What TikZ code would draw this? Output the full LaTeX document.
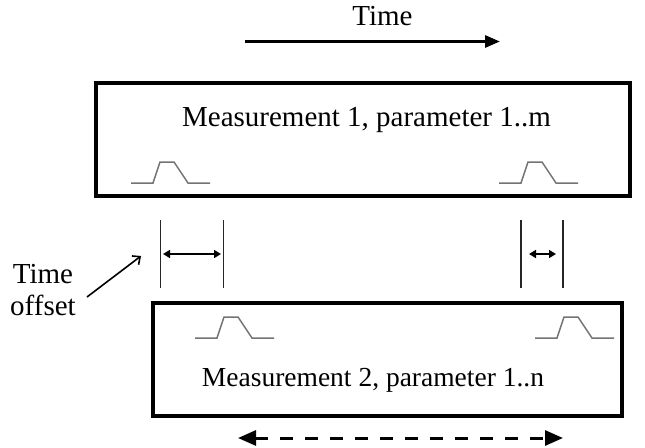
\documentclass[tikz,border=0pt]{standalone}
\usepackage{fontspec}
\setmainfont{Liberation Serif}
\usetikzlibrary{arrows.meta}
\begin{document}
\begin{tikzpicture}[x=1pt,y=-1pt,
  box/.style={draw, line width=3.5pt, rectangle, inner sep=0pt},
  lbl/.style={font=\fontsize{29}{32}\selectfont, inner sep=0pt, anchor=base},
  pulse/.style={draw=black!55, line width=1.5pt},
  marker/.style={draw=black!85, line width=1.4pt},
  offarrow/.style={line width=1.6pt, {Triangle[length=7pt,width=8pt]}-{Triangle[length=7pt,width=8pt]}},
  bigarrow/.style={line width=3pt, -{Triangle[length=15pt,width=12pt]}},
  dasharrow/.style={line width=3pt, dash pattern=on 13pt off 12pt, {Triangle[length=18pt,width=15pt]}-{Triangle[length=18pt,width=15pt]}},
  thinarrow/.style={line width=1.6pt, -{Straight Barb[length=6pt,width=11pt]}}
]
\useasboundingbox (0,0) rectangle (645,447);

% time arrow
\node[lbl] (time) at (382.5,25) {Time};
\coordinate (ts) at (245,41.5);
\coordinate (te) at (500,41.5);
\draw[bigarrow] (ts) -- (te);

% boxes
\node[box, minimum width=534pt, minimum height=113pt] (m1) at (363,139.5) {};
\node[lbl] (m1t) at (366.5,126) {Measurement 1, parameter 1..m};
\node[box, minimum width=469pt, minimum height=113pt] (m2) at (387.5,359.5) {};
\node[lbl, font=\fontsize{27.5}{32}\selectfont] (m2t) at (373,386) {Measurement 2, parameter 1..n};

% pulses
\newcommand\mypulse[2]{\draw[pulse] (#1,#2) -- ++(22,0) -- ++(7,-21) -- ++(14,0) -- ++(14,21) -- ++(22,0);}
\mypulse{131}{183}
\mypulse{499}{183}
\mypulse{195}{338}
\mypulse{535}{338}

% vertical markers
\coordinate (v1a) at (160.5,220); \coordinate (v1b) at (160.5,288);
\coordinate (v2a) at (223.5,220); \coordinate (v2b) at (223.5,288);
\coordinate (v3a) at (521,220); \coordinate (v3b) at (521,288);
\coordinate (v4a) at (563,220); \coordinate (v4b) at (563,288);
\draw[marker] (v1a) -- (v1b);
\draw[marker] (v2a) -- (v2b);
\draw[marker] (v3a) -- (v3b);
\draw[marker] (v4a) -- (v4b);
\coordinate (o1l) at (160.5,254); \coordinate (o1r) at (223.5,254);
\coordinate (o2l) at (521,254); \coordinate (o2r) at (563,254);
\draw[offarrow, shorten <=2.5pt, shorten >=2.5pt] (o1l) -- (o1r);
\draw[offarrow, shorten <=8pt, shorten >=7pt] (o2l) -- (o2r);

% time offset label
\node[lbl, align=center] (off) at (43,315) {Time\\offset};
\coordinate (offtail) at (87,297);
\coordinate (offhead) at (141,256);
\draw[thinarrow] (offtail) -- (offhead);

% dashed range arrow
\coordinate (d1) at (238,438);
\coordinate (d2) at (563,438);
\draw[dasharrow] (d1) -- (d2);
\end{tikzpicture}
\end{document}
